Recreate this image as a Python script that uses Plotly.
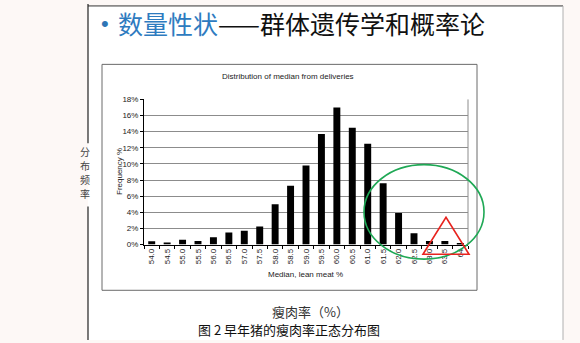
import plotly.graph_objects as go

W, H = 580, 343

categories = ["54.0", "54.5", "55.0", "55.5", "56.0", "56.5", "57.0", "57.5", "58.0", "58.5",
              "59.0", "59.5", "60.0", "60.5", "61.0", "61.5", "62.0", "62.5", "63.0", "63.5", "64"]
frequency = [0.4, 0.25, 0.6, 0.45, 0.9, 1.5, 1.7, 2.25, 5.0, 7.3,
             9.8, 13.7, 17.0, 14.5, 12.5, 7.6, 3.9, 1.4, 0.45, 0.45, 0.2]
y_ticks = [0, 2, 4, 6, 8, 10, 12, 14, 16, 18]
y_ticktext = [f"{v}%" for v in y_ticks]
side_chars = ["分", "布", "频", "率"]


def px(x):
    return x / W


def py(y):
    return 1 - y / H


fig = go.Figure()
fig.add_trace(go.Bar(
    x=categories, y=frequency, marker=dict(color="black", line=dict(width=0)),
    width=0.45, showlegend=False,
))

CJK = "Noto Sans CJK SC"
ARIAL = "Liberation Sans, Arial"

shapes = [
    # slide white area
    dict(type="rect", xref="paper", yref="paper", x0=px(88), x1=px(563), y0=py(2), y1=py(345),
         fillcolor="white", line=dict(width=0), layer="below"),
    dict(type="line", xref="paper", yref="paper", x0=px(88), x1=px(563), y0=py(2), y1=py(2),
         line=dict(color="#333333", width=1)),
    dict(type="line", xref="paper", yref="paper", x0=px(88), x1=px(88), y0=py(0), y1=py(143),
         line=dict(color="#222222", width=1.2)),
    dict(type="line", xref="paper", yref="paper", x0=px(88), x1=px(88), y0=py(208), y1=py(345),
         line=dict(color="#222222", width=1.2)),
    dict(type="line", xref="paper", yref="paper", x0=px(563), x1=px(563), y0=py(2), y1=py(345),
         line=dict(color="#b0b0b0", width=1)),
    # chart box
    dict(type="rect", xref="paper", yref="paper", x0=px(102), x1=px(477), y0=py(62), y1=py(294),
         fillcolor="white", line=dict(color="#6a6a6a", width=1), layer="below"),
    # plot area right border
    dict(type="line", xref="paper", yref="paper", x0=px(468), x1=px(468), y0=py(98), y1=py(247),
         line=dict(color="#8c8c8c", width=1), layer="below"),
    # green ellipse
    dict(type="circle", xref="paper", yref="paper", x0=px(364), x1=px(484), y0=py(165), y1=py(262),
         line=dict(color="#1fa855", width=1.6)),
    # red triangle
    dict(type="path", xref="paper", yref="paper",
         path=f"M {px(423)},{py(257)} L {px(446)},{py(219)} L {px(469)},{py(257)} Z",
         line=dict(color="#e8231e", width=1.6)),
]

annotations = [
    dict(x=px(99), y=py(20), text="•", font=dict(family=ARIAL, size=22, color="#2e75b5")),
    dict(x=px(116), y=py(20), xanchor="left",
         text="<span style='color:#2e7bbf'>数量性状</span>——群体遗传学和概率论",
         font=dict(family=CJK, size=25, color="#111111")),
    dict(x=px(288), y=py(74), text="Distribution of median from deliveries",
         font=dict(family=ARIAL, size=8, color="#222222")),
    dict(x=px(113), y=py(172), text="Frequency %", textangle=-90,
         font=dict(family=ARIAL, size=8, color="#222222")),
    dict(x=px(305), y=py(278), text="Median, lean meat %",
         font=dict(family=ARIAL, size=8, color="#222222")),
    dict(x=px(310), y=py(316), text="瘦肉率（%）",
         font=dict(family=CJK, size=13, color="#333333")),
    dict(x=px(289), y=py(334), text="图 2 早年猪的瘦肉率正态分布图",
         font=dict(family=CJK, size=13, color="#111111")),
]
for i, ch in enumerate(side_chars):
    annotations.append(dict(x=px(79), y=py(151 + 14.5 * i), text=ch, borderpad=0,
                            font=dict(family=CJK, size=10, color="#444444")))
for a in annotations:
    a.setdefault("xref", "paper")
    a.setdefault("yref", "paper")
    a.setdefault("showarrow", False)
    a.setdefault("yanchor", "middle")

fig.update_layout(
    width=W, height=H,
    margin=dict(l=0, r=0, t=0, b=0),
    paper_bgcolor="#fdf8f6",
    plot_bgcolor="rgba(0,0,0,0)",
    bargap=0.5,
    shapes=shapes,
    annotations=annotations,
    xaxis=dict(
        domain=[px(144), px(468)], type="category", range=[-0.5, len(categories) - 0.5],
        tickangle=-90, tickfont=dict(family=ARIAL, size=8, color="#222222"),
        showline=True, linecolor="black", linewidth=1, ticks="outside", ticklen=3,
        tickcolor="black", tickson="boundaries", showgrid=False, fixedrange=True,
    ),
    yaxis=dict(
        domain=[py(247), py(98)], range=[0, 18], tickvals=y_ticks, ticktext=y_ticktext,
        tickfont=dict(family=ARIAL, size=8, color="#222222"),
        showline=True, linecolor="black", linewidth=1, ticks="outside", ticklen=3,
        tickcolor="black", showgrid=True, gridcolor="#8c8c8c", gridwidth=1,
        zeroline=False, fixedrange=True,
    ),
)

fig.write_html("out.html")
